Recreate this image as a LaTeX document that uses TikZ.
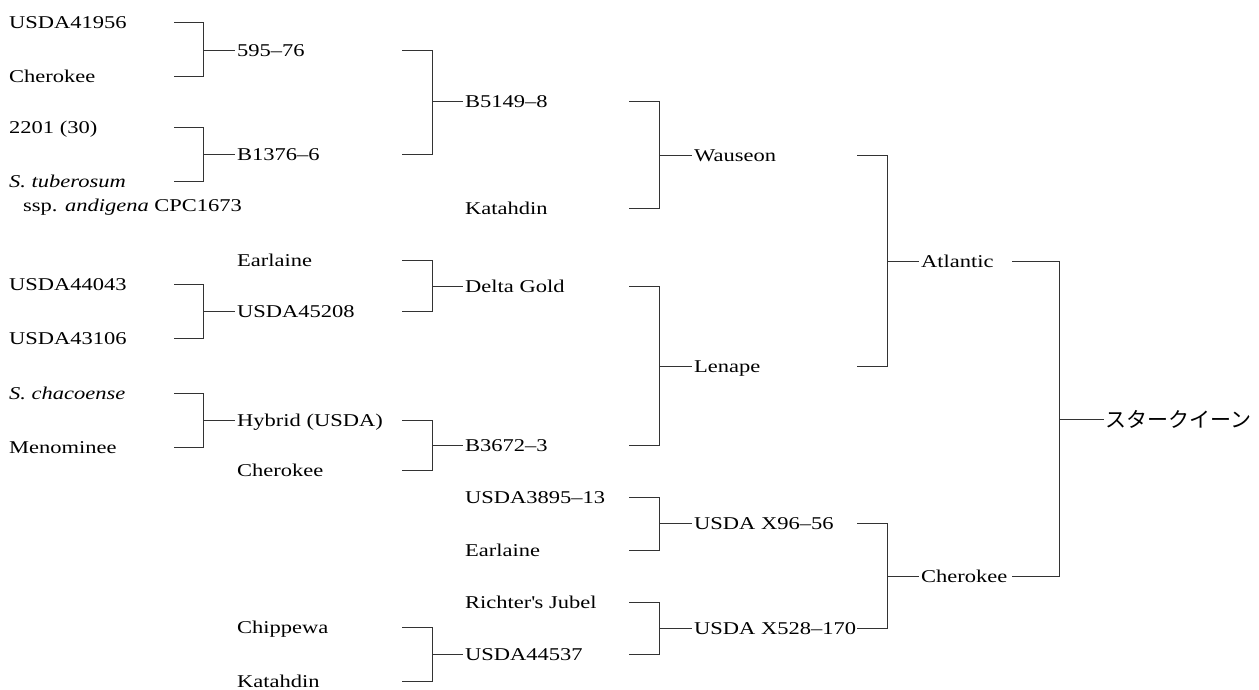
\documentclass[tikz,border=0pt]{standalone}
\usepackage{fontspec}
\setmainfont{Liberation Serif}[FakeStretch=1.25]
\newfontfamily\jpfont{Noto Sans CJK JP}
\usetikzlibrary{positioning}

\begin{document}
\begin{tikzpicture}[
  x=1pt, y=-1pt,
  font=\fontsize{18}{20}\selectfont,
  cv/.style={anchor=west, inner ysep=0pt, inner xsep=2pt, text height=12pt, text depth=0pt},
  jp/.style={cv, inner xsep=1pt, font=\fontsize{21}{24}\selectfont\jpfont, text height=18.5pt, text depth=2.5pt},
  ln/.style={draw=black!80, line width=0.9pt}
]
\useasboundingbox (0,0) rectangle (1259,689);

% grandparents, first row
\node[cv] (g1) at (7,22)  {USDA41956};
\node[cv] (g2) at (7,76)  {Cherokee};
\node[cv] (g3) at (7,127) {2201 (30)};
\node[cv] (g4) at (7,181) {\textit{S. tuberosum}};
\node[cv] (g4b) at (21,205) {ssp. \textit{andigena} CPC1673};
\node[cv] (g5) at (7,284) {USDA44043};
\node[cv] (g6) at (7,338) {USDA43106};
\node[cv] (g7) at (7,393) {\textit{S. chacoense}};
\node[cv] (g8) at (7,447) {Menominee};

\node[cv] (h1) at (235,50)  {595--76};
\node[cv] (h2) at (235,154) {B1376--6};
\node[cv] (h3) at (235,260) {Earlaine};
\node[cv] (h4) at (235,311) {USDA45208};
\node[cv] (h5) at (235,420) {Hybrid (USDA)};
\node[cv] (h6) at (235,470) {Cherokee};
\node[cv] (h7) at (235,627) {Chippewa};
\node[cv] (h8) at (235,681) {Katahdin};

\node[cv] (k1) at (463,101) {B5149--8};
\node[cv] (k2) at (463,208) {Katahdin};
\node[cv] (k3) at (463,286) {Delta Gold};
\node[cv] (k4) at (463,445) {B3672--3};
\node[cv] (k5) at (463,497) {USDA3895--13};
\node[cv] (k6) at (463,550) {Earlaine};
\node[cv] (k7) at (463,602) {Richter\textquotesingle s Jubel};
\node[cv] (k8) at (463,654) {USDA44537};

\node[cv] (m1) at (692,155) {Wauseon};
\node[cv] (m2) at (692,366) {Lenape};
\node[cv] (m3) at (692,523) {USDA X96--56};
\node[cv] (m4) at (692,628) {USDA X528--170};

\node[cv] (q1) at (919,261) {Atlantic};
\node[cv] (q2) at (919,576) {Cherokee};

\node[jp] (sq) at (1104,419) {スタークイーン};

% bracket columns: left end and upright
\foreach \k/\l/\v in {1/174/203, 2/402/432, 3/629/659, 4/857/887, 5/1012/1059} {
  \coordinate (l\k) at (\l,0);
  \coordinate (v\k) at (\v,0);
}

% one bracket per cross: two parents into one child
\foreach \a/\b/\r/\k in {g1/g2/h1/1, g3/g4/h2/1, g5/g6/h4/1, g7/g8/h5/1,
    h1/h2/k1/2, h3/h4/k3/2, h5/h6/k4/2, h7/h8/k8/2,
    k1/k2/m1/3, k3/k4/m2/3, k5/k6/m3/3, k7/k8/m4/3,
    m1/m2/q1/4, m3/m4/q2/4, q1/q2/sq/5}
  \draw[ln] (l\k |- \a.west) -- (v\k |- \a.west) -- (v\k |- \b.west) -- (l\k |- \b.west)
            (v\k |- \r.west) -- (\r.west);
\end{tikzpicture}
\end{document}
